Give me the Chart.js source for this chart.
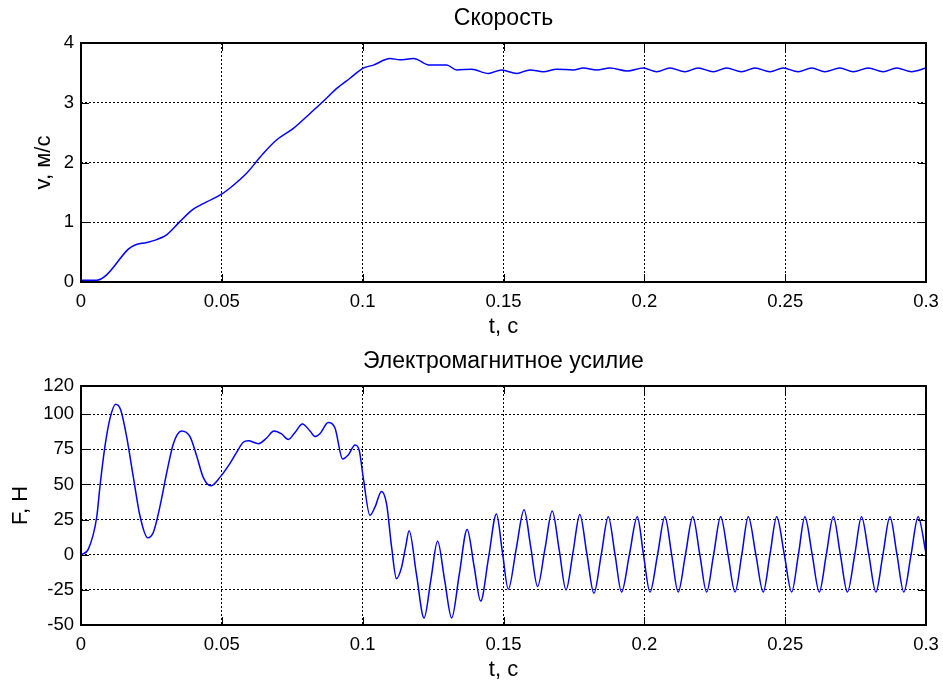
<!DOCTYPE html>
<html lang="ru">
<head>
<meta charset="utf-8">
<title>Скорость и электромагнитное усилие</title>
<script src="https://cdn.jsdelivr.net/npm/chart.js@4.4.1/dist/chart.umd.min.js"></script>
<style>
  html, body { margin: 0; padding: 0; background: #fff; }
  #painel { position: relative; width: 943px; height: 686px; }
  #painel canvas { position: absolute; left: 0; }
  #graficoV { top: 0; }
  #graficoF { top: 343px; }
</style>
</head>
<body>
<div id="painel">
  <canvas id="graficoV" width="943" height="343"></canvas>
  <canvas id="graficoF" width="943" height="343"></canvas>
</div>
<script>
// Marcas dos eixos
const tTicks = [0, 0.05, 0.1, 0.15, 0.2, 0.25, 0.3];
const vTicks = [0, 1, 2, 3, 4];
const fTicks = [-50, -25, 0, 25, 50, 75, 100, 120];

// Velocidade, м/с
const tSpeed = [
  0, 0.0056, 0.0091, 0.0168, 0.0192, 0.0233, 0.0269, 0.0304, 0.0351, 0.0393,
  0.0446, 0.0499, 0.0541, 0.0588, 0.0647, 0.0695, 0.0754, 0.0813, 0.0866, 0.0908,
  0.0955, 0.1002, 0.1038, 0.1097, 0.1132, 0.1180, 0.1239, 0.1298, 0.1334, 0.1387,
  0.1446, 0.1493, 0.1547, 0.1594, 0.1641, 0.1689, 0.1748, 0.1783, 0.1831, 0.1878,
  0.1940, 0.1996, 0.2044, 0.2091, 0.2144, 0.2191, 0.2245, 0.2292, 0.2345, 0.2393,
  0.2446, 0.2493, 0.2546, 0.2594, 0.2641, 0.2694, 0.2742, 0.2795, 0.2848, 0.2896,
  0.2949, 0.3000
];
const vSpeed = [
  0.03, 0.03, 0.12, 0.55, 0.62, 0.66, 0.71, 0.79, 1.01, 1.20,
  1.34, 1.47, 1.62, 1.82, 2.15, 2.38, 2.57, 2.82, 3.05, 3.24,
  3.41, 3.58, 3.63, 3.74, 3.72, 3.74, 3.63, 3.63, 3.55, 3.56,
  3.49, 3.55, 3.49, 3.55, 3.52, 3.56, 3.55, 3.58, 3.55, 3.58,
  3.53, 3.58, 3.52, 3.58, 3.52, 3.58, 3.52, 3.58, 3.52, 3.58,
  3.52, 3.58, 3.52, 3.58, 3.52, 3.58, 3.52, 3.58, 3.52, 3.58,
  3.52, 3.58
];

// Força eletromagnética, Н
const tForce = [
  0, 0.0026, 0.0056, 0.0067, 0.0085, 0.0103, 0.0123, 0.0141, 0.0162, 0.0186,
  0.0210, 0.0237, 0.0257, 0.0280, 0.0304, 0.0328, 0.0357, 0.0387, 0.0411, 0.0434,
  0.0461, 0.0493, 0.0529, 0.0553, 0.0576, 0.0594, 0.0630, 0.0659, 0.0685, 0.0712,
  0.0736, 0.0760, 0.0786, 0.0813, 0.0831, 0.0848, 0.0878, 0.0902, 0.0929, 0.0949,
  0.0973, 0.0988, 0.1002, 0.1026, 0.1044, 0.1067, 0.1085, 0.1103, 0.1120, 0.1138,
  0.1152, 0.1165, 0.1191, 0.1218, 0.1242, 0.1266, 0.1291, 0.1316, 0.1343, 0.1371,
  0.1395, 0.1419, 0.1447, 0.1475, 0.1496, 0.1517, 0.1545, 0.1573, 0.1597, 0.1621,
  0.1647, 0.1673, 0.1698, 0.1722, 0.1747, 0.1771, 0.1796, 0.1821, 0.1847, 0.1872,
  0.1896, 0.1919, 0.1947, 0.1975, 0.1997, 0.2020, 0.2047, 0.2073, 0.2097, 0.2120,
  0.2146, 0.2172, 0.2197, 0.2221, 0.2246, 0.2271, 0.2297, 0.2322, 0.2346, 0.2369,
  0.2396, 0.2422, 0.2446, 0.2470, 0.2497, 0.2523, 0.2547, 0.2570, 0.2596, 0.2621,
  0.2646, 0.2671, 0.2696, 0.2721, 0.2747, 0.2771, 0.2797, 0.2822, 0.2847, 0.2872,
  0.2897, 0.2921, 0.2947, 0.2972, 0.3000
];
const fForce = [
  0, 4, 27, 48, 77, 97, 107, 103, 84, 55,
  27, 12, 16, 34, 58, 79, 88, 84, 70, 55,
  49, 55, 65, 73, 80, 81, 79, 83, 88, 86,
  82, 87, 93, 88, 84, 86, 94, 90, 68, 71,
  78, 74, 55, 28, 34, 45, 36, 5, -17, -9,
  5, 17, -14, -45, -18, 9.5, -18, -45, -14, 18,
  -7.5, -33, -2, 29, 2, -24.5, 4, 32, 5, -22.6,
  4, 31, 3, -25, 2, 28.6, 0.5, -27.4, 0, 27,
  0, -26.5, 0, 27, 0, -26.5, 0, 27, 0, -26.5,
  0, 27, 0, -26.5, 0, 27, 0, -26.5, 0, 27,
  0, -26.5, 0, 27, 0, -26.5, 0, 27, 0, -26.5,
  0, 27, 0, -26.5, 0, 27, 0, -26.5, 0, 27,
  0, -26.5, 0, 27, 1
];

const FONTE = "'Liberation Sans', Arial, Helvetica, sans-serif";

// Moldura dos eixos com marcas para dentro, nos quatro lados
const molduraEixos = {
  id: 'molduraEixos',
  afterDatasetsDraw(chart) {
    const { ctx, chartArea: a, scales: { x, y } } = chart;
    const tam = 8;
    ctx.save();
    ctx.strokeStyle = '#000';
    ctx.lineWidth = 1;
    ctx.beginPath();
    x.ticks.forEach(t => {
      const px = Math.round(x.getPixelForValue(t.value)) + 0.5;
      ctx.moveTo(px, a.bottom); ctx.lineTo(px, a.bottom - tam);
      ctx.moveTo(px, a.top); ctx.lineTo(px, a.top + tam);
    });
    y.ticks.forEach(t => {
      const py = Math.round(y.getPixelForValue(t.value)) + 0.5;
      ctx.moveTo(a.left, py); ctx.lineTo(a.left + tam, py);
      ctx.moveTo(a.right, py); ctx.lineTo(a.right - tam, py);
    });
    ctx.stroke();
    ctx.lineWidth = 2;
    ctx.strokeRect(a.left, a.top, a.right - a.left, a.bottom - a.top);
    ctx.restore();
  }
};

function formatarTempo(v) {
  return String(+v.toFixed(2));
}

function criarGrafico(canvasId, titulo, rotuloY, ts, ys, yMin, yMax, yTicks, recuoRotuloY) {
  const ctx = document.getElementById(canvasId).getContext('2d');
  return new Chart(ctx, {
    type: 'line',
    data: {
      datasets: [{
        data: ts.map((t, i) => ({ x: t, y: ys[i] })),
        borderColor: '#0000ff',
        borderWidth: 1.5,
        pointRadius: 0,
        cubicInterpolationMode: 'monotone',
        fill: false
      }]
    },
    options: {
      responsive: false,
      animation: false,
      devicePixelRatio: 1,
      layout: { padding: { left: 0, right: 17, top: 0, bottom: 0 } },
      plugins: {
        legend: { display: false },
        tooltip: { enabled: false },
        title: {
          display: true,
          text: titulo,
          fullSize: false,
          color: '#000',
          font: { family: FONTE, size: 23, weight: 'normal' },
          padding: { top: 5, bottom: 10.4 }
        }
      },
      scales: {
        x: {
          type: 'linear',
          min: 0, max: 0.3,
          afterBuildTicks: s => { s.ticks = tTicks.map(v => ({ value: v })); },
          // altura fixa e sem folga extra para o rótulo "0.3"
          afterFit: s => { s.height = 61; s.paddingLeft = 0; s.paddingRight = 0; },
          ticks: {
            color: '#000', padding: 8.4, maxRotation: 0,
            font: { family: FONTE, size: 18.5 },
            callback: v => formatarTempo(v)
          },
          grid: { color: '#000', lineWidth: 1, drawTicks: false },
          border: { display: false, dash: [2, 2] },
          title: {
            display: true, text: 't, с', color: '#000',
            font: { family: FONTE, size: 22 },
            padding: { top: 0, bottom: 2.8 }
          }
        },
        y: {
          type: 'linear',
          min: yMin, max: yMax,
          afterBuildTicks: s => { s.ticks = yTicks.map(v => ({ value: v })); },
          afterFit: s => { s.width = 81; s.paddingTop = 0; s.paddingBottom = 0; },
          ticks: {
            color: '#000', padding: 7,
            font: { family: FONTE, size: 18.5 },
            callback: v => String(v)
          },
          grid: { color: '#000', lineWidth: 1, drawTicks: false },
          border: { display: false, dash: [2, 2] },
          title: {
            display: true, text: rotuloY, color: '#000',
            font: { family: FONTE, size: 22 },
            padding: { top: recuoRotuloY, bottom: 0 }
          }
        }
      }
    },
    plugins: [molduraEixos]
  });
}

criarGrafico('graficoV', 'Скорость', 'v, м/с', tSpeed, vSpeed, 0, 4, vTicks, 30.8);
criarGrafico('graficoF', 'Электромагнитное усилие', 'F, Н', tForce, fForce, -50, 120, fTicks, 7.5);
</script>
</body>
</html>
